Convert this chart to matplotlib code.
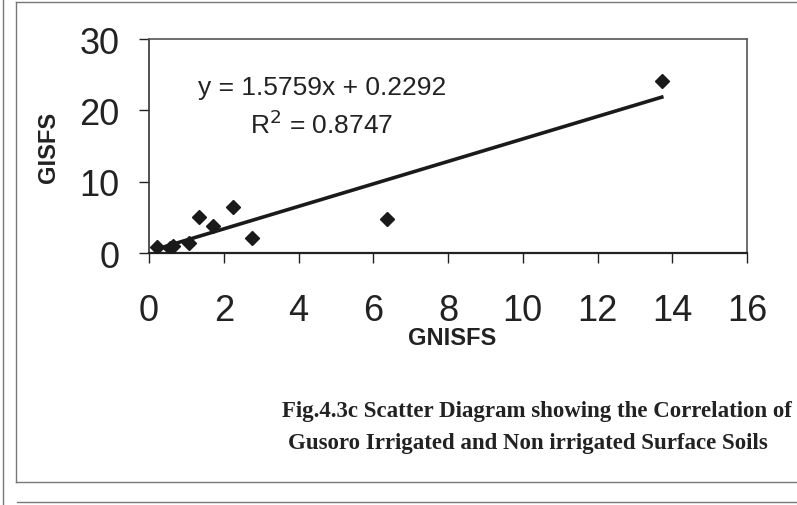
import numpy as np
import matplotlib.pyplot as plt
from matplotlib.lines import Line2D

# GNISFS (x) vs GISFS (y)
gnisfs = [0.22, 0.56, 0.65, 1.07, 1.34, 1.72, 2.24, 2.76, 6.38, 13.72]
gisfs = [0.8, 0.66, 0.94, 1.36, 5.0, 3.8, 6.4, 2.1, 4.8, 24.1]

# trendline printed on the chart
slope = 1.5759
intercept = 0.2292
r2 = 0.8747

x_ticks = [0, 2, 4, 6, 8, 10, 12, 14, 16]
y_ticks = [0, 10, 20, 30]

plt.rcParams['font.family'] = ['Liberation Sans', 'DejaVu Sans']

fig = plt.figure(figsize=(7.97, 5.06), dpi=100)
ax = fig.add_axes([149 / 797, 1 - 254 / 506, 598 / 797, 214 / 506])

ax.plot(gnisfs, gisfs, 'D', color='#1a1a1a', markersize=7.5, zorder=3)

xs = np.array([min(gnisfs), max(gnisfs)])
ax.plot(xs, slope * xs + intercept, color='#1a1a1a', lw=2.6, zorder=2)

ax.set_xlim(0, 16)
ax.set_ylim(0, 30)
ax.set_xticks(x_ticks)
ax.set_yticks(y_ticks)
ax.tick_params(axis='x', labelsize=26, length=7, width=1, pad=22, direction='out', colors='#222')
ax.tick_params(axis='y', labelsize=26, length=7, width=1, pad=14, direction='out', colors='#222')

for s in ['top', 'right']:
    ax.spines[s].set_color('#555')
    ax.spines[s].set_linewidth(1.2)
ax.spines['bottom'].set_color('#222')
ax.spines['bottom'].set_linewidth(1.6)
ax.spines['left'].set_color('#333')
ax.spines['left'].set_linewidth(1.2)

ax.set_xlabel('GNISFS', fontsize=17, fontweight='bold', color='#222')
ax.set_ylabel('GISFS', fontsize=17, fontweight='bold', color='#222')
ax.xaxis.set_label_coords(0.507, -0.34)
ax.yaxis.set_label_coords(-0.148, 0.5)

ax.text(0.289, 0.776, 'y = %.4fx + %.4f' % (slope, intercept), transform=ax.transAxes,
        ha='center', va='center', fontsize=19, color='#222')
ax.text(0.289, 0.603, 'R$^2$ = %.4f' % r2, transform=ax.transAxes,
        ha='center', va='center', fontsize=19, color='#222')

# caption
fig.text(282 / 797, 1 - 412 / 506, 'Fig.4.3c Scatter Diagram showing the Correlation of',
         family='Liberation Serif', fontweight='bold', fontsize=16.5, ha='left', va='center', color='#222')
fig.text(288 / 797, 1 - 444 / 506, 'Gusoro Irrigated and Non irrigated Surface Soils',
         family='Liberation Serif', fontweight='bold', fontsize=16.5, ha='left', va='center', color='#222')

# page frame lines
W, H = 797, 506
frame = [([3, 3], [0, H]), ([16, 16], [3, 483]), ([16, W], [3, 3]),
         ([16, W], [483, 483]), ([17, W], [503, 503])]
for fx, fy in frame:
    fig.add_artist(Line2D([v / W for v in fx], [1 - v / H for v in fy], color='#777', lw=1))

fig.savefig('out.png', dpi=100)
